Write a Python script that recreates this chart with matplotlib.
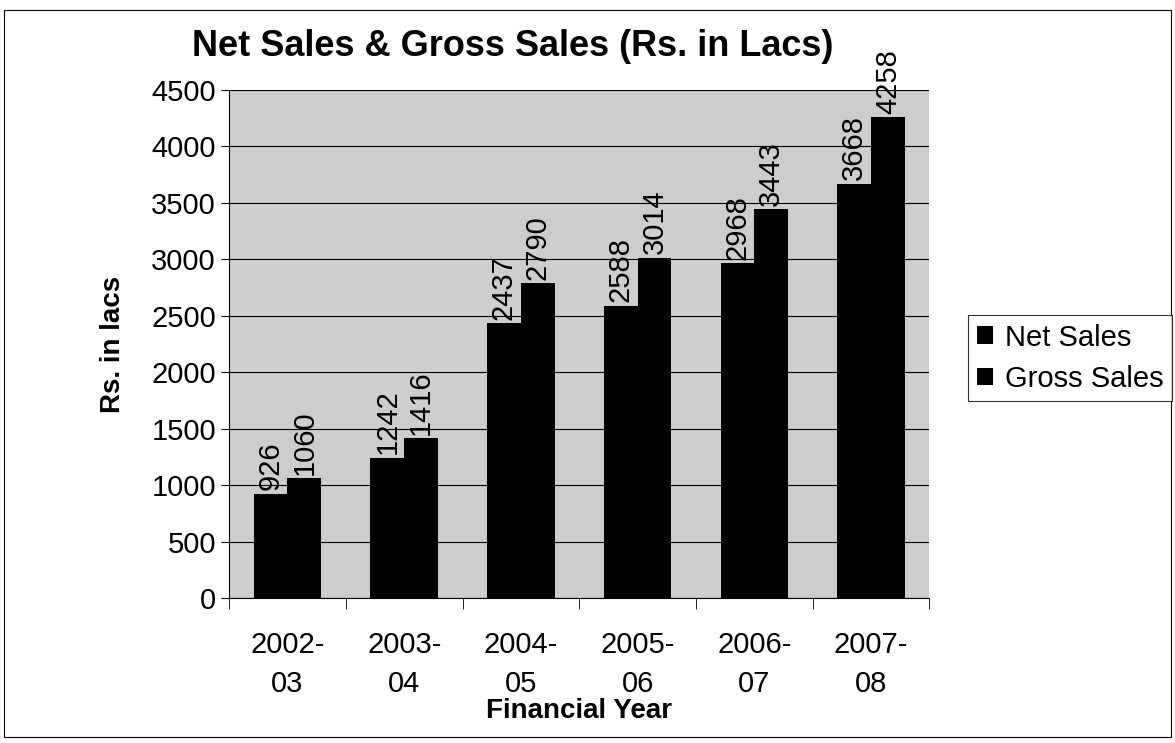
import numpy as np
import matplotlib.pyplot as plt
from matplotlib.patches import Rectangle

plt.rcParams['font.family'] = ['Liberation Sans', 'DejaVu Sans']

years = ["2002-\n03", "2003-\n04", "2004-\n05", "2005-\n06", "2006-\n07", "2007-\n08"]
net_sales = [926, 1242, 2437, 2588, 2968, 3668]
gross_sales = [1060, 1416, 2790, 3014, 3443, 4258]

fig = plt.figure(figsize=(11.75, 7.43), dpi=100)
ax = fig.add_axes([0.195, 0.195, 0.596, 0.684])

x = np.arange(len(years))
w = 0.29
b1 = ax.bar(x - w / 2, net_sales, w, color='black', label='Net Sales')
b2 = ax.bar(x + w / 2, gross_sales, w, color='black', label='Gross Sales')

for bars in (b1, b2):
    for r in bars:
        ax.text(r.get_x() + r.get_width() / 2, r.get_height() + 30, str(int(r.get_height())),
                rotation=90, ha='center', va='bottom', fontsize=21)

ax.set_facecolor('#cdcdcd')
ax.set_xlim(-0.5, len(years) - 0.5)
ax.set_ylim(0, 4500)
ax.set_yticks(range(0, 4501, 500))
ax.yaxis.grid(True, color='black', linewidth=0.8)
ax.set_axisbelow(True)
ax.tick_params(axis='y', labelsize=21, length=6, direction='out')
ax.set_xticks(x)
ax.set_xticklabels(years, fontsize=21, linespacing=1.5)
ax.tick_params(axis='x', length=0, pad=24)
ax.set_xticks(np.arange(-0.5, len(years)), minor=True)
ax.tick_params(axis='x', which='minor', length=8)
for s in ('top', 'right'):
    ax.spines[s].set_visible(False)

ax.set_xlabel("Financial Year", fontsize=20, fontweight='bold', labelpad=0)
ax.set_ylabel("Rs. in lacs", fontsize=20, fontweight='bold', labelpad=18)
fig.text(0.436, 0.937, "Net Sales & Gross Sales (Rs. in Lacs)", fontsize=26,
         fontweight='bold', ha='center', va='center')

leg = fig.legend(loc='center left', bbox_to_anchor=(0.824, 0.518), fontsize=21,
                 frameon=True, fancybox=False, edgecolor='black', handlelength=0.55,
                 handleheight=0.55, handletextpad=0.4, labelspacing=0.45, borderpad=0.3,
                 borderaxespad=0)
leg.get_frame().set_linewidth(0.8)

fig.patches.append(Rectangle((0.003, 0.008), 0.994, 0.978, transform=fig.transFigure,
                             fill=False, edgecolor='black', linewidth=0.8))

fig.savefig("out.png", dpi=100)
